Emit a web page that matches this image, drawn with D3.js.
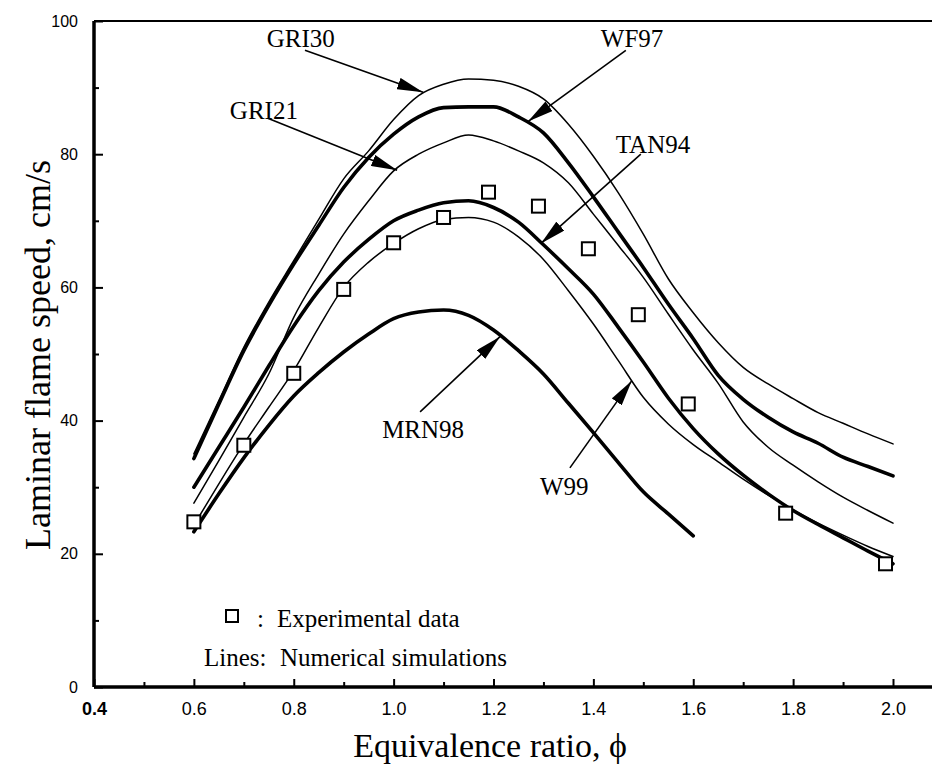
<!DOCTYPE html>
<html>
<head>
<meta charset="utf-8">
<script src="https://cdn.jsdelivr.net/npm/d3@7"></script>
<style>
  body { margin: 0; background: #fff; }
  svg { display: block; }
</style>
</head>
<body>
<div id="chart"></div>
<script>
// equivalence ratio grid used by all the simulated curves
const phi = [0.6, 0.65, 0.7, 0.75, 0.8, 0.85, 0.9, 0.95, 1.0, 1.05, 1.1, 1.15, 1.2, 1.25, 1.3,
             1.35, 1.4, 1.45, 1.5, 1.55, 1.6, 1.65, 1.7, 1.75, 1.8, 1.85, 1.9, 1.95, 2.0]

const gri30 = [35, 43, 51, 57.8, 64, 70.2, 76.3, 80.5, 85.2, 88.8, 90.5, 91.3, 91.1, 90.2, 88.3,
               84.5, 79.7, 74.2, 68, 61.3, 56.2, 51.7, 48, 45.5, 43.3, 41.2, 39.6, 38, 36.5]
const wf97 = [34.3, 42.5, 50.5, 57.3, 63.5, 69.3, 75, 79.5, 83, 85.6, 87, 87.1, 87.1, 85.6, 83.2,
              78.7, 73.6, 68.3, 63, 57.5, 52.3, 46.8, 43.2, 40.5, 38.3, 36.6, 34.5, 33.1, 31.7]
const gri21 = [27.6, 34, 40.5, 47, 55.5, 62, 68, 73, 77.5, 80, 81.7, 82.9, 82, 80.5, 78.7,
               75.7, 71, 66.3, 61.5, 56, 50.6, 45.6, 39.8, 36, 33.3, 30.8, 28.5, 26.5, 24.6]
const tan94 = [30, 36, 42, 48.2, 54.2, 59.5, 63.8, 67.2, 70, 71.6, 72.7, 73, 72, 69.8, 66.4,
               62.8, 59, 54, 48.8, 43.4, 38.8, 35, 31.8, 29, 26.5, 24.4, 22.4, 20.4, 18.5]
const w99 = [24.3, 30.5, 36.5, 42, 47.5, 54, 60, 63.8, 66.6, 68.8, 70.2, 70.5, 69.8, 67.6, 64.2,
             59.5, 54.5, 49, 43.5, 39.5, 36.4, 33.8, 31.2, 28.8, 26.6, 24.6, 22.8, 21.1, 19.6]
const mrn98 = [23.3, 29, 34.4, 39.3, 43.7, 47.2, 50.3, 53, 55.3, 56.3, 56.6, 55.8, 53.6, 50.5, 47,
               42.6, 38.2, 33.7, 29.3, 26, 22.7]

// experimental data
const phiExp = [0.6, 0.7, 0.8, 0.9, 1.0, 1.1, 1.19, 1.29, 1.39, 1.49, 1.59, 1.785, 1.985]
const speedExp = [24.8, 36.3, 47.1, 59.7, 66.7, 70.5, 74.3, 72.2, 65.8, 55.9, 42.5, 26.1, 18.5]

const xMajor = [0.4, 0.6, 0.8, 1.0, 1.2, 1.4, 1.6, 1.8, 2.0]
const xMinor = [0.5, 0.7, 0.9, 1.1, 1.3, 1.5, 1.7, 1.9]
const yMajor = [0, 20, 40, 60, 80, 100]
const yMinor = [10, 30, 50, 70, 90]

const curves = [
    { name: "GRI30", values: gri30, thick: false },
    { name: "WF97", values: wf97, thick: true },
    { name: "GRI21", values: gri21, thick: false },
    { name: "TAN94", values: tan94, thick: true },
    { name: "W99", values: w99, thick: false },
    { name: "MRN98", values: mrn98, thick: true }
]

// label text start, arrow tail and arrow tip, in data units (phi, speed)
const notes = [
    { text: "GRI30", at: [0.746, 96.1], from: [0.8225, 95.6], to: [1.059, 89.3] },
    { text: "WF97", at: [1.415, 96.1], from: [1.465, 95.6], to: [1.269, 84.9] },
    { text: "GRI21", at: [0.672, 85.3], from: [0.748, 85.4], to: [1.007, 77.6] },
    { text: "TAN94", at: [1.445, 80.2], from: [1.495, 80.0], to: [1.295, 66.6] },
    { text: "MRN98", at: [0.977, 37.4], from: [1.053, 41.3], to: [1.213, 52.6] },
    { text: "W99", at: [1.293, 28.8], from: [1.353, 32.9], to: [1.477, 46.0] }
]

const width = 932
const height = 771
const serif = "'Liberation Serif', 'Times New Roman', serif"
const sans = "'Liberation Sans', Arial, sans-serif"

const svg = d3.select("#chart")
    .append("svg")
    .attr("width", width)
    .attr("height", height)

const x = d3.scaleLinear().domain([0.4, 2.0]).range([94, 893])
const y = d3.scaleLinear().domain([0, 100]).range([687, 21])

svg.append("defs").append("marker")
    .attr("id", "arrow")
    .attr("viewBox", "0 0 26 12")
    .attr("refX", 26)
    .attr("refY", 6)
    .attr("markerWidth", 26)
    .attr("markerHeight", 12)
    .attr("markerUnits", "userSpaceOnUse")
    .attr("orient", "auto")
    .append("path")
    .attr("d", "M0,0 L26,6 L0,12 Z")
    .attr("fill", "#000")

// axes
var xAxis = svg.append("g")
    .attr("transform", "translate(0," + y(0) + ")")
    .call(d3.axisBottom(x).tickValues(xMajor).tickSize(-8).tickPadding(15).tickFormat(d3.format(".1f")))
xAxis.select(".domain").remove()
xAxis.selectAll("line").attr("stroke-width", 2)
xAxis.selectAll("text")
    .style("font-family", sans)
    .style("font-size", "18px")
    .attr("fill", "#000")
    .style("font-weight", d => d === 0.4 ? "bold" : "normal")

var xAxisMinor = svg.append("g")
    .attr("transform", "translate(0," + y(0) + ")")
    .call(d3.axisBottom(x).tickValues(xMinor).tickSize(-5).tickFormat(""))
xAxisMinor.select(".domain").remove()
xAxisMinor.selectAll("line").attr("stroke-width", 2)

var yAxis = svg.append("g")
    .attr("transform", "translate(" + x(0.4) + ",0)")
    .call(d3.axisLeft(y).tickValues(yMajor).tickSize(-9).tickPadding(16))
yAxis.select(".domain").remove()
yAxis.selectAll("line").attr("stroke-width", 2)
yAxis.selectAll("text")
    .style("font-family", sans)
    .style("font-size", "16px")
    .attr("fill", "#000")

var yAxisMinor = svg.append("g")
    .attr("transform", "translate(" + x(0.4) + ",0)")
    .call(d3.axisLeft(y).tickValues(yMinor).tickSize(-5).tickFormat(""))
yAxisMinor.select(".domain").remove()
yAxisMinor.selectAll("line").attr("stroke-width", 2)

// frame: thick left and bottom, thinner top
svg.append("line")
    .attr("x1", x(0.4)).attr("x2", width)
    .attr("y1", y(0)).attr("y2", y(0))
    .attr("stroke", "#000").attr("stroke-width", 3.5)
svg.append("line")
    .attr("x1", x(0.4)).attr("x2", x(0.4))
    .attr("y1", y(100)).attr("y2", y(0))
    .attr("stroke", "#000").attr("stroke-width", 3.5)
svg.append("line")
    .attr("x1", x(0.4)).attr("x2", width)
    .attr("y1", y(100)).attr("y2", y(100))
    .attr("stroke", "#000").attr("stroke-width", 2)

// simulated curves
const line = d3.line()
    .x((d, i) => x(phi[i]))
    .y(d => y(d))
    .curve(d3.curveMonotoneX)

curves.forEach(c => {
    svg.append("path")
        .datum(c.values)
        .attr("d", line)
        .attr("fill", "none")
        .attr("stroke", "#000")
        .attr("stroke-width", c.thick ? 3.6 : 1.5)
        .attr("stroke-linejoin", "round")
        .attr("stroke-linecap", "round")
})

// experimental points
svg.append("g")
    .selectAll("rect")
    .data(phiExp)
    .join("rect")
    .attr("x", (d) => x(d) - 6.5)
    .attr("y", (d, i) => y(speedExp[i]) - 6.5)
    .attr("width", 13)
    .attr("height", 13)
    .attr("fill", "#fff")
    .attr("stroke", "#000")
    .attr("stroke-width", 2)

// curve labels and arrows
notes.forEach(n => {
    svg.append("line")
        .attr("x1", x(n.from[0])).attr("y1", y(n.from[1]))
        .attr("x2", x(n.to[0])).attr("y2", y(n.to[1]))
        .attr("stroke", "#000")
        .attr("stroke-width", 1.6)
        .attr("marker-end", "url(#arrow)")
    svg.append("text")
        .text(n.text)
        .attr("x", x(n.at[0]))
        .attr("y", y(n.at[1]))
        .style("font-family", serif)
        .style("font-size", "25px")
})

// legend
svg.append("rect")
    .attr("x", 226).attr("y", 610)
    .attr("width", 12).attr("height", 12)
    .attr("fill", "#fff").attr("stroke", "#000").attr("stroke-width", 2)
svg.append("text").text(":").attr("x", 257).attr("y", 627)
    .style("font-family", serif).style("font-size", "25px")
svg.append("text").text("Experimental data").attr("x", 277).attr("y", 627)
    .style("font-family", serif).style("font-size", "25px")
svg.append("text").text("Lines:").attr("x", 204).attr("y", 666)
    .style("font-family", serif).style("font-size", "25px")
svg.append("text").text("Numerical simulations").attr("x", 280).attr("y", 666)
    .style("font-family", serif).style("font-size", "25px")

// axis titles
svg.append("text")
    .text("Equivalence ratio, \u03D5")
    .attr("x", 490)
    .attr("y", 757)
    .attr("text-anchor", "middle")
    .style("font-family", serif)
    .style("font-size", "34px")

svg.append("text")
    .text("Laminar flame speed, cm/s")
    .attr("transform", "translate(50,355) rotate(-90)")
    .attr("text-anchor", "middle")
    .style("font-family", serif)
    .style("font-size", "36px")
</script>
</body>
</html>
